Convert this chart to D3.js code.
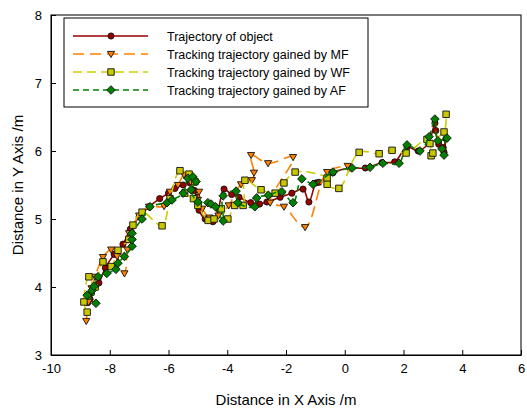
<!DOCTYPE html>
<html>
<head>
<meta charset="utf-8">
<script src="https://cdn.jsdelivr.net/npm/d3@7"></script>
<style>
  body { margin: 0; background: #fff; }
  text { font-family: "Liberation Sans", Arial, sans-serif; fill: #000; }
</style>
</head>
<body>
<div id="chart"></div>
<script>
// trajectories, [x, y] in metres
const objectPath = [[-8.75,3.77],[-8.67,3.82],[-8.62,3.91],[-8.5,4.0],[-8.37,4.06],[-8.15,4.28],[-7.85,4.48],[-7.55,4.63],[-7.3,4.85],[-7.0,5.03],[-6.66,5.18],[-6.3,5.3],[-6.0,5.38],[-5.78,5.45],[-5.5,5.5],[-5.27,5.53],[-5.12,5.42],[-5.03,5.32],[-4.98,5.2],[-4.96,5.13],[-4.75,5.0],[-4.49,4.96],[-4.3,5.15],[-4.11,5.44],[-3.85,5.36],[-3.6,5.32],[-3.2,5.24],[-2.9,5.22],[-2.65,5.25],[-2.2,5.32],[-1.8,5.38],[-1.42,5.44],[-1.22,5.25],[-0.98,5.53],[-0.88,5.54],[-0.4,5.68],[0.18,5.75],[0.7,5.75],[1.27,5.83],[1.7,5.84],[2.12,6.06],[2.5,6.0],[2.85,6.12],[3.07,6.41],[3.1,6.3],[3.2,6.1],[3.35,6.05],[3.45,6.18],[3.38,5.98]]

const mfPath = [[-8.8,3.5],[-8.72,3.78],[-8.62,3.98],[-8.5,4.15],[-8.23,4.44],[-7.95,4.55],[-7.75,4.45],[-7.5,4.2],[-7.4,4.55],[-7.34,4.79],[-7.0,5.05],[-6.66,5.18],[-6.15,5.19],[-5.95,5.4],[-5.68,5.5],[-5.47,5.65],[-5.25,5.55],[-4.96,5.4],[-5.0,5.28],[-4.85,5.15],[-4.6,5.02],[-4.3,5.05],[-3.95,5.2],[-3.53,5.51],[-3.16,5.57],[-3.09,5.68],[-3.19,5.94],[-2.61,5.82],[-1.76,5.91],[-2.54,5.24],[-2.07,5.18],[-1.35,4.88],[-0.6,5.69],[0.1,5.78]]

const wfPath = [[-8.77,3.63],[-8.88,3.78],[-8.71,4.15],[-8.5,4.0],[-8.23,4.37],[-7.95,4.3],[-7.72,4.54],[-7.35,4.7],[-7.21,4.91],[-6.9,5.1],[-6.22,4.9],[-5.95,5.3],[-5.61,5.71],[-5.3,5.66],[-5.1,5.55],[-5.45,5.38],[-5.15,5.3],[-5.0,5.2],[-4.65,4.98],[-4.45,5.0],[-4.2,5.15],[-3.98,5.0],[-3.75,5.2],[-3.46,5.2],[-3.4,5.57],[-2.85,5.43],[-2.37,5.38],[-2.07,5.53],[-1.69,5.69],[-0.6,5.6],[-0.6,5.51],[-0.2,5.45],[0.49,5.98],[1.17,5.96],[1.61,6.01],[2.09,5.97],[2.8,6.17],[2.94,5.93],[3.0,5.97],[2.9,6.11],[3.38,6.28],[3.45,6.54]]

const afPath = [[-8.77,3.88],[-8.47,3.76],[-8.6,3.95],[-8.54,4.01],[-8.4,4.15],[-8.1,4.2],[-7.79,4.26],[-7.72,4.35],[-7.5,4.45],[-7.24,4.6],[-7.24,4.7],[-7.24,4.79],[-6.9,5.0],[-6.63,5.18],[-6.05,5.24],[-5.88,5.28],[-5.5,5.38],[-5.34,5.6],[-5.17,5.62],[-5.06,5.55],[-5.23,5.43],[-5.0,5.25],[-4.66,5.24],[-4.55,5.22],[-4.4,5.18],[-4.14,4.97],[-4.14,5.34],[-3.7,5.41],[-3.64,5.24],[-3.06,5.18],[-3.0,5.31],[-2.6,5.35],[-2.14,5.4],[-1.76,5.24],[-1.46,5.59],[-1.08,5.51],[-0.4,5.69],[0.25,5.75],[0.86,5.76],[1.3,5.82],[1.85,5.82],[2.12,6.09],[2.56,6.0],[2.87,6.21],[3.07,6.47],[3.17,6.15],[3.48,6.19],[3.31,6.03],[3.38,5.94]]

const seriesNames = ["Trajectory of object", "Tracking trajectory gained by MF", "Tracking trajectory gained by WF", "Tracking trajectory gained by AF"]
const xTicks = [-10, -8, -6, -4, -2, 0, 2, 4, 6]
const yTicks = [3, 4, 5, 6, 7, 8]

const width = 527, height = 413
const margin = {top: 15, right: 6, bottom: 58, left: 51}

const svg = d3.select("#chart").append("svg")
    .attr("width", width)
    .attr("height", height)

const x = d3.scaleLinear().domain([-10, 6]).range([margin.left, width - margin.right])
const y = d3.scaleLinear().domain([3, 8]).range([height - margin.bottom, margin.top])

// marker outlines
const markers = {
    circle: d3.symbol().type(d3.symbolCircle).size(30)(),
    tri: "M-3.6,-2.6L3.6,-2.6L0,3.6Z",
    square: d3.symbol().type(d3.symbolSquare).size(42)(),
    diamond: "M0,-4.3L4.3,0L0,4.3L-4.3,0Z"
}

const styles = [
    {data: objectPath, line: "#990000", fill: "#990000", dash: null, marker: "circle"},
    {data: mfPath, line: "#ff8000", fill: "#ff8000", dash: "11,6", marker: "tri"},
    {data: wfPath, line: "#cccc00", fill: "#c8c800", dash: "9,5", marker: "square"},
    {data: afPath, line: "#008000", fill: "#008000", dash: "6,4", marker: "diamond"}
]

const plain = d => String(d)

// axes box
svg.append("rect")
    .attr("x", x(-10)).attr("y", y(8))
    .attr("width", x(6) - x(-10)).attr("height", y(3) - y(8))
    .attr("fill", "none").attr("stroke", "#222").attr("stroke-width", 1.2)

const xAxis = svg.append("g")
    .attr("transform", `translate(0,${y(3)})`)
    .call(d3.axisBottom(x).tickValues(xTicks).tickFormat(plain).tickSizeInner(-5).tickSizeOuter(0).tickPadding(9))
xAxis.select(".domain").attr("stroke", "#000")
xAxis.selectAll("text").style("font-size", "13px")

const yAxis = svg.append("g")
    .attr("transform", `translate(${x(-10)},0)`)
    .call(d3.axisLeft(y).tickValues(yTicks).tickFormat(plain).tickSizeInner(-5).tickSizeOuter(0).tickPadding(9))
yAxis.select(".domain").attr("stroke", "#000")
yAxis.selectAll("text").style("font-size", "13px")

svg.append("text")
    .attr("x", (x(-10) + x(6)) / 2).attr("y", 405)
    .attr("text-anchor", "middle").style("font-size", "15px")
    .text("Distance in X Axis /m")

svg.append("text")
    .attr("transform", `translate(23,${(y(3) + y(8)) / 2}) rotate(-90)`)
    .attr("text-anchor", "middle").style("font-size", "15px")
    .text("Distance in Y Axis /m")

const line = d3.line()
    .x(d => x(d[0]))
    .y(d => y(d[1]))
    .curve(d3.curveCatmullRom.alpha(0.5))

// draw each series: line then markers
styles.forEach(s => {
    svg.append("path")
        .datum(s.data)
        .attr("d", line)
        .attr("fill", "none")
        .attr("stroke", s.line)
        .attr("stroke-width", 1.6)
        .attr("stroke-dasharray", s.dash)

    svg.append("g").selectAll("path")
        .data(s.data)
        .join("path")
        .attr("transform", d => `translate(${x(d[0])},${y(d[1])})`)
        .attr("d", markers[s.marker])
        .attr("fill", s.fill)
        .attr("stroke", "#111")
        .attr("stroke-width", 0.9)
})

// legend
const legend = svg.append("g")
legend.append("rect")
    .attr("x", 64).attr("y", 18).attr("width", 304).attr("height", 89)
    .attr("fill", "#fff").attr("stroke", "#000").attr("stroke-width", 1)

styles.forEach((s, i) => {
    const ly = 36 + i * 18
    legend.append("line")
        .attr("x1", 73).attr("x2", 148).attr("y1", ly).attr("y2", ly)
        .attr("stroke", s.line).attr("stroke-width", 1.6)
        .attr("stroke-dasharray", s.dash)
    legend.append("path")
        .attr("transform", `translate(111,${ly})`)
        .attr("d", markers[s.marker])
        .attr("fill", s.fill).attr("stroke", "#111").attr("stroke-width", 0.9)
    legend.append("text")
        .attr("x", 167).attr("y", ly + 4.5)
        .style("font-size", "12.5px")
        .text(seriesNames[i])
})
</script>
</body>
</html>
